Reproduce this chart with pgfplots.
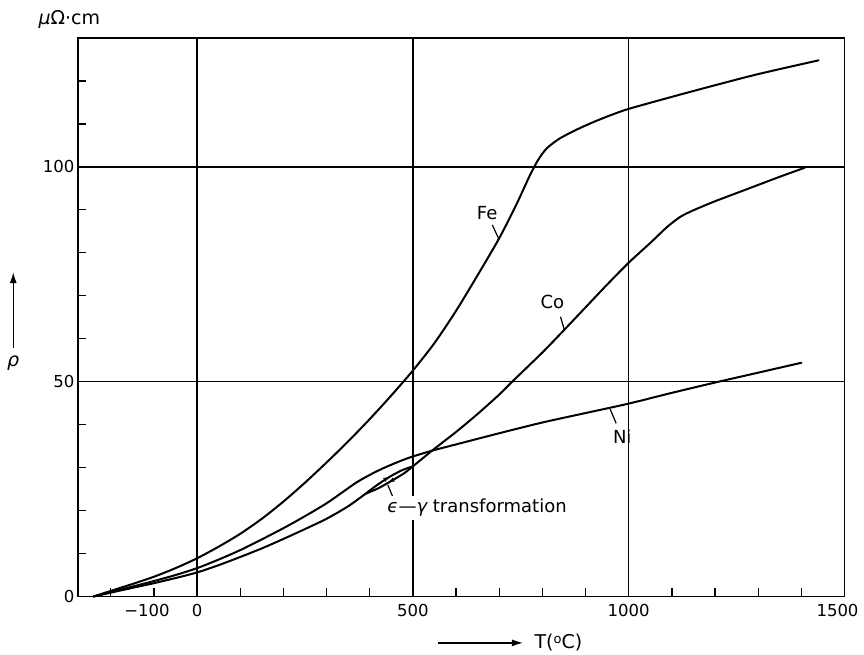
\documentclass[border=0pt]{standalone}
\usepackage{fontspec}
\setmainfont{DejaVu Sans}
\usepackage{pgfplots}
\pgfplotsset{compat=1.18}
\usetikzlibrary{decorations.markings,arrows.meta}

% resistivity (micro-ohm cm) against temperature (deg C)
\pgfplotstableread{
T rho
-240 0
-200 1.3
-150 2.9
-100 4.6
-50 6.6
0 8.9
50 11.6
100 14.6
150 18.1
200 22.1
250 26.5
300 31.2
350 36.1
400 41.3
450 46.8
500 52.6
550 59.0
600 66.5
650 74.8
700 83.4
740 91.3
770 97.8
790 101.6
810 104.3
840 106.6
880 108.7
920 110.5
960 112.1
1000 113.5
1100 116.3
1200 119.0
1300 121.6
1440 124.8
}\Fe

\pgfplotstableread{
T rho
-240 0
-200 1.0
-150 2.3
-100 3.6
-50 5.0
0 6.6
50 8.6
100 10.8
150 13.3
200 15.9
250 18.7
300 21.7
340 24.5
370 26.6
400 28.3
430 29.8
470 31.5
500 32.6
550 34.1
600 35.4
700 38.0
800 40.5
900 42.7
1000 44.9
1100 47.4
1200 49.8
1300 52.1
1400 54.4
}\Ni

\pgfplotstableread{
T rho
-240 0
-200 0.9
-150 2.0
-100 3.1
-50 4.3
0 5.6
50 7.3
100 9.2
150 11.2
200 13.4
250 15.7
300 18.1
350 21.0
390 23.9
}\CoLow

% epsilon-gamma hysteresis loop of cobalt
\pgfplotstableread{
T rho
500 30.3
480 28.7
450 26.9
420 25.2
390 23.9
}\CoCool

\pgfplotstableread{
T rho
390 23.9
415 25.8
445 27.8
475 29.4
500 30.3
}\CoHeat

\pgfplotstableread{
T rho
500 30.3
550 34.4
600 38.3
650 42.5
700 47.0
730 50.0
800 56.8
850 62.0
900 67.3
950 72.6
1000 77.7
1050 82.3
1090 86.1
1120 88.4
1150 89.9
1200 92.0
1250 93.9
1300 95.8
1350 97.7
1408 99.8
}\CoHigh

\newcommand\lbl{\fontsize{18}{21}\selectfont}

\begin{document}
\begin{tikzpicture}
\begin{axis}[
  name=ax,
  scale only axis,
  width=766.5pt, height=558.5pt,
  xmin=-276, xmax=1500, ymin=0, ymax=130,
  clip=false,
  axis line style={line width=1.6pt},
  tick pos=left,
  tick align=inside,
  xtick={-100,0,500,1000,1500},
  xticklabels={\llap{−}100,0,500,1000,\hspace*{-14pt}1500},
  minor xtick={-200,-100,...,1400},
  ytick={0,50,100},
  yticklabels={0,50,100},
  minor ytick={10,20,...,120},
  major tick length=8pt, minor tick length=8pt,
  every tick/.style={line width=1.3pt, black},
  extra x ticks={0,500,1000}, extra x tick labels={},
  extra y ticks={50,100}, extra y tick labels={},
  extra tick style={grid=major, major tick length=0pt},
  grid style={line width=1.4pt, black},
  tick label style={font=\fontsize{16.5}{20}\selectfont},
  xticklabel style={yshift=-4pt},
  curve/.style={black, line width=2pt, line join=round, line cap=round, smooth, tension=0.45},
  arrowmid/.style={postaction={decorate}, decoration={markings,
      mark=at position 0.55 with {\arrow{Latex[length=7pt,width=4.5pt]}}}},
]
\addplot[curve] table {\Fe};
\addplot[curve] table {\Ni};
\addplot[curve] table {\CoLow};
\addplot[curve, arrowmid] table {\CoCool};
\addplot[curve, arrowmid] table {\CoHeat};
\addplot[curve] table {\CoHigh};

% curve labels with leader lines
\node[font=\lbl] at (axis cs:672,89.2) {Fe};
\draw[line width=1.2pt] (axis cs:684,86.5) -- (axis cs:699,83.2);
\node[font=\lbl] at (axis cs:823,68.6) {Co};
\draw[line width=1.2pt] (axis cs:842,65.1) -- (axis cs:851,62.0);
\node[font=\lbl] at (axis cs:985,37.2) {Ni};
\draw[line width=1.2pt] (axis cs:957,43.6) -- (axis cs:971,40.3);
\node[font=\lbl, anchor=west, fill=white, inner xsep=2pt, inner ysep=3pt]
  at (axis cs:436,20.6) {{\itshape ϵ}—{\itshape γ} transformation};
\draw[line width=1.2pt] (axis cs:441.7,26.0) -- (axis cs:452.5,23.4);

% axis quantities
\node[font=\fontsize{19}{22}\selectfont] at (axis cs:-296,134.2) {{\itshape μ}Ω·cm};
\draw[line width=1.3pt, -{Latex[length=11pt,width=7pt]}] (axis cs:-426,57.8) -- (axis cs:-426,75.5);
\node[font=\fontsize{19}{22}\selectfont] at (axis cs:-426,54.3) {\itshape ρ};
\draw[line width=1.3pt, -{Latex[length=11pt,width=7pt]}] (axis cs:557,-10.8) -- (axis cs:755,-10.8);
\node[font=\fontsize{19}{22}\selectfont] at (axis cs:837,-10.8)
  {T(\raisebox{0.55ex}{\fontsize{13}{13}\selectfont o}C)};
\end{axis}
\path ([shift={(-78pt,-56.5pt)}]ax.south west) rectangle ([shift={(19.5pt,38pt)}]ax.north east);
\end{tikzpicture}
\end{document}
